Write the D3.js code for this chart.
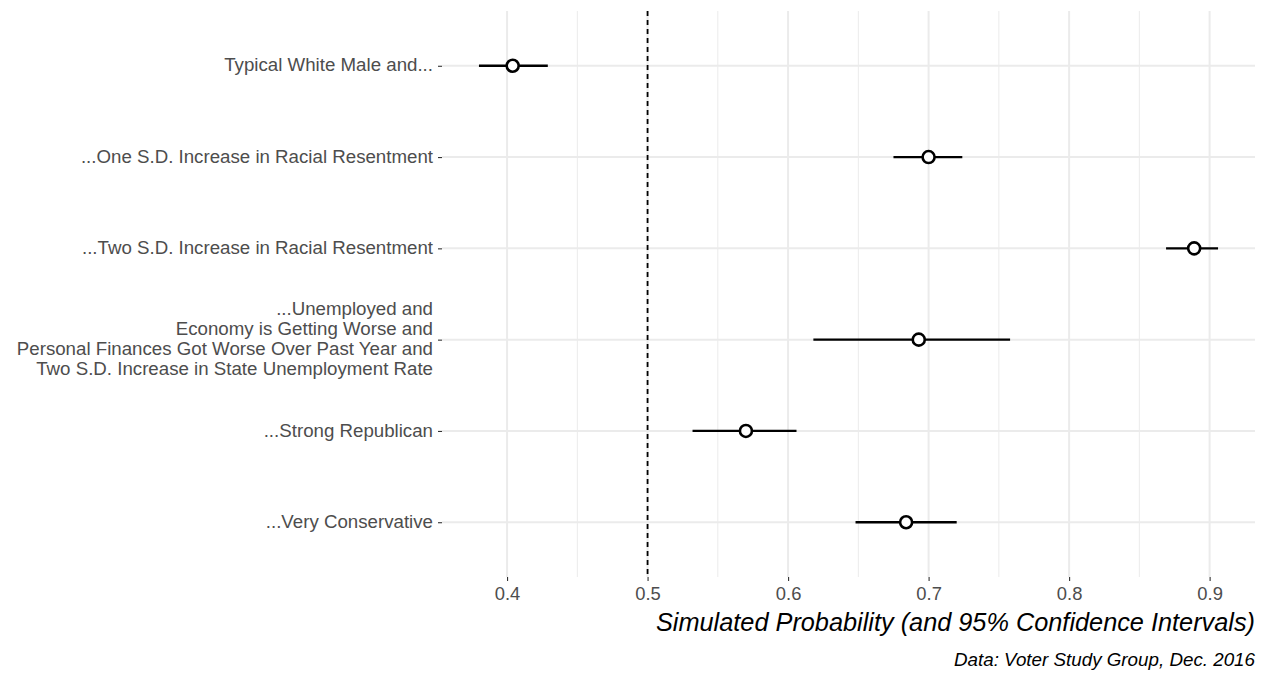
<!DOCTYPE html>
<html>
  <head>
    <meta charset="utf-8" />
    <title>Simulated probabilities</title>
    <script src="https://d3js.org/d3.v7.min.js"></script>
    <style>
      body { margin: 0; background: #fff; }
      text { font-family: "Liberation Sans", Arial, sans-serif; }
    </style>
  </head>
  <body>
    <svg width="1265" height="674" id="chart"></svg>

    <script>
      // scenario labels (top to bottom), lines split by \n
      var labels = [
        "Typical White Male and...",
        "...One S.D. Increase in Racial Resentment",
        "...Two S.D. Increase in Racial Resentment",
        "...Unemployed and\nEconomy is Getting Worse and\nPersonal Finances Got Worse Over Past Year and\nTwo S.D. Increase in State Unemployment Rate",
        "...Strong Republican",
        "...Very Conservative"
      ];
      var estimates = [0.404, 0.700, 0.889, 0.693, 0.570, 0.684];
      var lower = [0.380, 0.675, 0.869, 0.618, 0.532, 0.648];
      var upper = [0.429, 0.724, 0.906, 0.758, 0.606, 0.720];
      var xTicks = [0.4, 0.5, 0.6, 0.7, 0.8, 0.9];
      var xMinor = [0.45, 0.55, 0.65, 0.75, 0.85];

      var rows = labels.map(function(l, i) {
        return { label: l, est: estimates[i], lo: lower[i], hi: upper[i] };
      });

      var svg = d3.select("#chart");
      var panelL = 442, panelR = 1255, panelT = 11, panelB = 577;

      // ggplot style 5% expansion
      var lo = d3.min(lower), hi = d3.max(upper), pad = (hi - lo) * 0.05;
      var x = d3.scaleLinear().domain([lo - pad, hi + pad]).range([panelL, panelR]);
      var y = d3.scalePoint().domain(labels).range([panelT, panelB]).padding(0.6);

      // grid
      svg.append("g").selectAll("line").data(xMinor).enter().append("line")
        .attr("x1", function(d){ return x(d); }).attr("x2", function(d){ return x(d); })
        .attr("y1", panelT).attr("y2", panelB)
        .attr("stroke", "#ebebeb").attr("stroke-width", 1);
      svg.append("g").selectAll("line").data(xTicks).enter().append("line")
        .attr("x1", function(d){ return x(d); }).attr("x2", function(d){ return x(d); })
        .attr("y1", panelT).attr("y2", panelB)
        .attr("stroke", "#ebebeb").attr("stroke-width", 2);
      svg.append("g").selectAll("line").data(labels).enter().append("line")
        .attr("x1", panelL).attr("x2", panelR)
        .attr("y1", function(d){ return y(d); }).attr("y2", function(d){ return y(d); })
        .attr("stroke", "#ebebeb").attr("stroke-width", 2);

      // x axis
      var xAxis = svg.append("g").attr("transform", "translate(0," + panelB + ")")
        .call(d3.axisBottom(x).tickValues(xTicks).tickSize(4).tickPadding(6).tickFormat(d3.format(".1f")));
      xAxis.select(".domain").remove();
      xAxis.selectAll(".tick line").attr("stroke", "#333").attr("stroke-width", 1.1);
      xAxis.selectAll(".tick text").attr("fill", "#4d4d4d").attr("font-size", 18.4)
        .attr("font-family", "Liberation Sans, Arial, sans-serif");

      // y axis
      var yAxis = svg.append("g").attr("transform", "translate(" + panelL + ",0)")
        .call(d3.axisLeft(y).tickSize(4).tickPadding(5).tickFormat(""));
      yAxis.select(".domain").remove();
      yAxis.selectAll(".tick line").attr("stroke", "#333").attr("stroke-width", 1.1);
      yAxis.selectAll(".tick").each(function(d) {
        var lines = d.split("\n");
        var lh = 20;
        var t = d3.select(this).select("text")
          .attr("fill", "#4d4d4d").attr("font-size", 18.7).attr("text-anchor", "end")
          .attr("font-family", "Liberation Sans, Arial, sans-serif")
          .attr("dy", null);
        t.selectAll("tspan").data(lines).enter().append("tspan")
          .attr("x", -9)
          .attr("y", function(l, i){ return (i - (lines.length - 1) / 2) * lh + 5.2; })
          .text(function(l){ return l; });
      });

      // reference line at 0.5
      svg.append("line")
        .attr("x1", x(0.5)).attr("x2", x(0.5)).attr("y1", panelT).attr("y2", panelB)
        .attr("stroke", "#000").attr("stroke-width", 1.8).attr("stroke-dasharray", "5,4");

      // intervals
      svg.append("g").selectAll("line").data(rows).enter().append("line")
        .attr("x1", function(d){ return x(d.lo); }).attr("x2", function(d){ return x(d.hi); })
        .attr("y1", function(d){ return y(d.label); }).attr("y2", function(d){ return y(d.label); })
        .attr("stroke", "#000").attr("stroke-width", 2.3);

      // points
      svg.append("g").selectAll("circle").data(rows).enter().append("circle")
        .attr("cx", function(d){ return x(d.est); })
        .attr("cy", function(d){ return y(d.label); })
        .attr("r", 6).attr("fill", "#fff").attr("stroke", "#000").attr("stroke-width", 2.6);

      // axis title and caption
      svg.append("text").attr("x", panelR).attr("y", 631).attr("text-anchor", "end")
        .attr("font-size", 25.3).attr("font-style", "italic").attr("fill", "#000")
        .text("Simulated Probability (and 95% Confidence Intervals)");
      svg.append("text").attr("x", panelR).attr("y", 666).attr("text-anchor", "end")
        .attr("font-size", 18.8).attr("font-style", "italic").attr("fill", "#000")
        .text("Data: Voter Study Group, Dec. 2016");
    </script>
  </body>
</html>
